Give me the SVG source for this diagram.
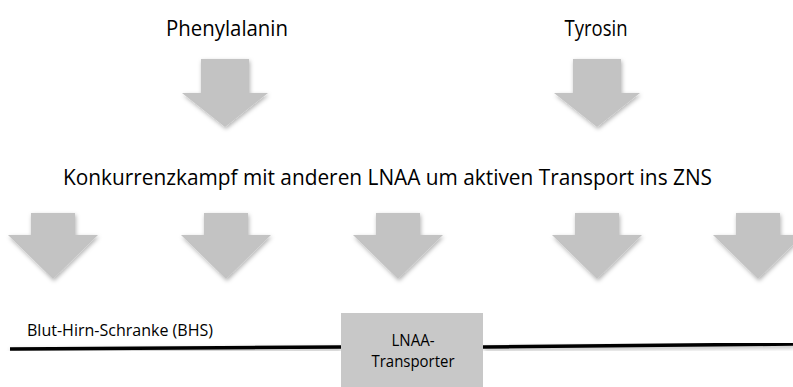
<svg xmlns="http://www.w3.org/2000/svg" width="793" height="387" viewBox="0 0 793 387">
<style>
.t{font-family:"Open Sans","Liberation Sans",sans-serif;fill:#000}
.arr{fill:#c3c3c3}
</style>
<defs>
<filter id="sh" x="-20%" y="-20%" width="150%" height="150%">
<feDropShadow dx="1" dy="2" stdDeviation="2" flood-color="#000" flood-opacity="0.3"/>
</filter>
<path id="bigArrow" d="M-24,0 H24 V34 H43 L0,68 L-43,34 H-24 Z"/>
<path id="smallArrow" d="M-22,0 H22 V22 H45 L0,66 L-45,22 H-22 Z"/>
</defs>
<rect width="793" height="387" fill="#fff"/>
<g id="phenylalanin">
<text class="t" x="227" y="36" font-size="21" text-anchor="middle" textLength="122" lengthAdjust="spacingAndGlyphs">Phenylalanin</text>
</g>
<g id="tyrosin">
<text class="t" x="596" y="36" font-size="21" text-anchor="middle" textLength="63" lengthAdjust="spacingAndGlyphs">Tyrosin</text>
</g>
<g id="konkurrenz">
<text class="t" x="63" y="185" font-size="22.5" textLength="649" lengthAdjust="spacingAndGlyphs">Konkurrenzkampf mit anderen LNAA um aktiven Transport ins ZNS</text>
</g>
<g id="connectors" filter="url(#sh)">
<use href="#bigArrow" class="arr" x="225" y="59"/>
<use href="#bigArrow" class="arr" x="597" y="59"/>
<use href="#smallArrow" class="arr" x="53" y="213"/>
<use href="#smallArrow" class="arr" x="226" y="213"/>
<use href="#smallArrow" class="arr" x="398" y="213"/>
<use href="#smallArrow" class="arr" x="597" y="213"/>
<use href="#smallArrow" class="arr" x="758" y="213"/>
</g>
<g id="bhs">
<text class="t" x="27" y="336" font-size="17" textLength="186" lengthAdjust="spacingAndGlyphs">Blut-Hirn-Schranke (BHS)</text>
<path d="M10,349 L341,347 M483,347 L793,344" stroke="#000" stroke-width="3.5" fill="none" filter="url(#sh)"/>
</g>
<g id="transporter">
<rect x="341" y="313" width="142" height="74" fill="#c8c8c8"/>
<text class="t" x="413" y="346" font-size="16" text-anchor="middle" textLength="43" lengthAdjust="spacingAndGlyphs">LNAA-</text>
<text class="t" x="413" y="367" font-size="16" text-anchor="middle" textLength="83" lengthAdjust="spacingAndGlyphs">Transporter</text>
</g>
</svg>
